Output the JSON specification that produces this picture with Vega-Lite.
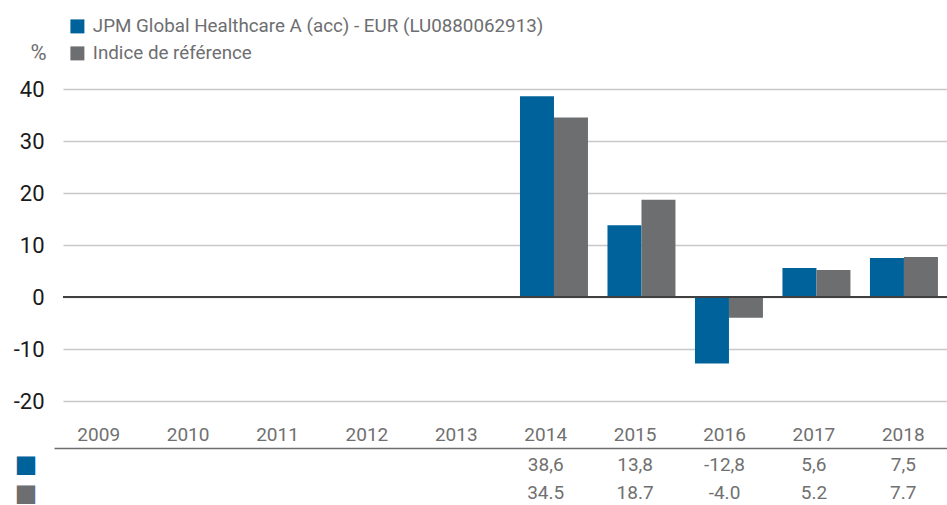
{
  "$schema": "https://vega.github.io/schema/vega-lite/v6.json",
  "padding": {"left": 13, "top": 17, "right": 0, "bottom": 0},
  "background": "white",
  "spacing": 13,
  "config": {"view": {"stroke": null}, "font": "Roboto"},
  "datasets": {
    "returns": [
      {"year": "2014", "series": "JPM Global Healthcare A (acc) - EUR (LU0880062913)", "value": 38.6, "label": "38,6"},
      {"year": "2014", "series": "Indice de référence", "value": 34.5, "label": "34.5"},
      {"year": "2015", "series": "JPM Global Healthcare A (acc) - EUR (LU0880062913)", "value": 13.8, "label": "13,8"},
      {"year": "2015", "series": "Indice de référence", "value": 18.7, "label": "18.7"},
      {"year": "2016", "series": "JPM Global Healthcare A (acc) - EUR (LU0880062913)", "value": -12.8, "label": "-12,8"},
      {"year": "2016", "series": "Indice de référence", "value": -4.0, "label": "-4.0"},
      {"year": "2017", "series": "JPM Global Healthcare A (acc) - EUR (LU0880062913)", "value": 5.6, "label": "5,6"},
      {"year": "2017", "series": "Indice de référence", "value": 5.2, "label": "5.2"},
      {"year": "2018", "series": "JPM Global Healthcare A (acc) - EUR (LU0880062913)", "value": 7.5, "label": "7,5"},
      {"year": "2018", "series": "Indice de référence", "value": 7.7, "label": "7.7"}
    ]
  },
  "vconcat": [
    {
      "width": 885,
      "height": 312,
      "data": {"name": "returns"},
      "layer": [
        {
          "mark": {"type": "bar"},
          "encoding": {
            "x": {
              "field": "year", "type": "ordinal",
              "scale": {"domain": ["2009","2010","2011","2012","2013","2014","2015","2016","2017","2018"], "paddingInner": 0.223, "paddingOuter": 0.169, "align": 0.66},
              "axis": null
            },
            "xOffset": {"field": "series", "type": "nominal", "sort": ["JPM Global Healthcare A (acc) - EUR (LU0880062913)", "Indice de référence"]},
            "y": {
              "field": "value", "type": "quantitative", "stack": null,
              "scale": {"domain": [-20, 40], "nice": false},
              "axis": {
                "values": [-20, -10, 0, 10, 20, 30, 40],
                "labelExpr": "replace(datum.label, '−', '-')",
                "title": "%", "titleAngle": 0, "titleAlign": "right", "titleBaseline": "middle",
                "titleX": -17, "titleY": -37, "titleFont": "Roboto", "titleFontSize": 22, "titleFontWeight": "normal", "titleColor": "#6d6e70",
                "labelFont": "Roboto", "labelFontSize": 22, "labelColor": "#1a1a1a", "labelPadding": 19,
                "ticks": false, "domain": false, "grid": true, "gridColor": "#c8c8c8", "gridWidth": 1.5
              }
            },
            "color": {
              "field": "series", "type": "nominal",
              "scale": {"domain": ["JPM Global Healthcare A (acc) - EUR (LU0880062913)", "Indice de référence"], "range": ["#00629b", "#6d6e70"]},
              "legend": {
                "orient": "none", "legendX": 5, "legendY": -72, "title": null, "direction": "vertical",
                "symbolType": "square", "symbolSize": 196, "symbolStrokeWidth": 0, "symbolOpacity": 1,
                "labelFont": "Roboto", "labelFontSize": 18.8, "labelColor": "#6d6e70", "rowPadding": 7, "labelOffset": 6, "padding": 0,
                "labelLimit": 600
              }
            }
          }
        },
        {
          "data": {"values": [{}]},
          "mark": {"type": "rule", "color": "#404040", "strokeWidth": 2},
          "encoding": {"y": {"datum": 0, "type": "quantitative"}}
        }
      ]
    },
    {
      "width": 885,
      "height": 62,
      "data": {"name": "returns"},
      "mark": {"type": "text", "font": "Roboto", "fontSize": 19, "color": "#707070"},
      "encoding": {
        "x": {
          "field": "year", "type": "ordinal",
          "scale": {"type": "band", "domain": ["2009","2010","2011","2012","2013","2014","2015","2016","2017","2018"], "range": [-9, 885], "paddingInner": 0, "paddingOuter": 0},
          "axis": {"orient": "top", "title": null, "ticks": false, "labelAngle": 0, "labelPadding": 4, "labelFont": "Roboto", "labelFontSize": 19, "labelColor": "#707070", "domain": true, "domainColor": "#6d6e70", "domainWidth": 1.5}
        },
        "y": {
          "field": "series", "type": "nominal",
          "scale": {"type": "point", "domain": ["JPM Global Healthcare A (acc) - EUR (LU0880062913)", "Indice de référence"], "padding": 0.607},
          "axis": {
            "title": null, "ticks": false, "domain": false, "grid": false,
            "labelExpr": "'■'", "labelFont": "DejaVu Sans", "labelFontSize": 24, "labelPadding": 26,
            "labelColor": {"condition": {"test": "indexof(datum.value, 'JPM') === 0", "value": "#00629b"}, "value": "#6d6e70"}
          }
        },
        "text": {"field": "label"}
      }
    }
  ],
  "resolve": {"legend": {"color": "independent"}, "scale": {"x": "independent", "y": "independent"}}
}
